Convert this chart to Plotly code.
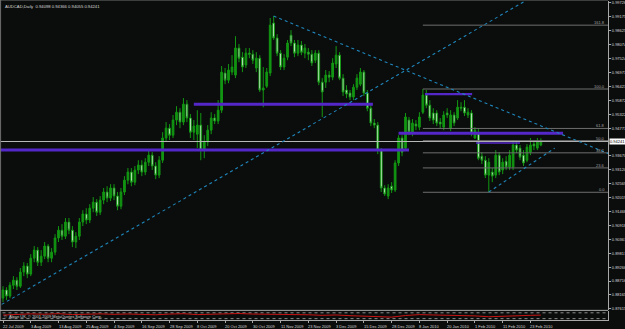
import plotly.graph_objects as go

# ---------------- data ----------------
opens = [0.8804, 0.8836, 0.8812, 0.8855, 0.8875, 0.8851, 0.8907, 0.8931, 0.8899, 0.8962,
         0.8994, 0.8946, 0.8970, 0.9010, 0.8962, 0.8986, 0.9042, 0.9073, 0.9049, 0.9105,
         0.9073, 0.9026, 0.9049, 0.9105, 0.9137, 0.9113, 0.9160, 0.9184, 0.9144, 0.9192,
         0.9224, 0.9200, 0.9240, 0.9208, 0.9168, 0.9224, 0.9271, 0.9303, 0.9263, 0.9311,
         0.9331, 0.9303, 0.9342, 0.9370, 0.9327, 0.9291, 0.9350, 0.9438, 0.9477, 0.9449,
         0.9509, 0.9540, 0.9501, 0.9572, 0.9517, 0.9461, 0.9453, 0.9489, 0.9390, 0.9422,
         0.9469, 0.9517, 0.9505, 0.9548, 0.9695, 0.9667, 0.9699, 0.9687, 0.9794, 0.9758,
         0.9727, 0.9774, 0.9770, 0.9715, 0.9754, 0.9628, 0.9643, 0.9695, 0.9893, 0.9834,
         0.9774, 0.9719, 0.9758, 0.9845, 0.9814, 0.9774, 0.9806, 0.9774, 0.9778, 0.9770,
         0.9746, 0.9774, 0.9659, 0.9659, 0.9687, 0.9679, 0.9731, 0.9766, 0.9675, 0.9628,
         0.9616, 0.9600, 0.9639, 0.9651, 0.9699, 0.9616, 0.9556, 0.9497, 0.9489, 0.9390,
         0.9240, 0.9208, 0.9247, 0.9232, 0.9339, 0.9438, 0.9398, 0.9509, 0.9461, 0.9493,
         0.9481, 0.9540, 0.9608, 0.9568, 0.9537, 0.9537, 0.9501, 0.9481, 0.9537, 0.9477,
         0.9529, 0.9517, 0.9560, 0.9560, 0.9529, 0.9537, 0.9438, 0.9461, 0.9366, 0.9350,
         0.9291, 0.9303, 0.9291, 0.9370, 0.9311, 0.9346, 0.9323, 0.9323, 0.9410, 0.9398,
         0.9370, 0.9350, 0.9382, 0.9414, 0.9398, 0.94098]
highs = [0.8851, 0.8847, 0.8867, 0.8891, 0.8887, 0.8923, 0.8946, 0.8943, 0.8978, 0.9010,
         0.9006, 0.8994, 0.9026, 0.9018, 0.9002, 0.9057, 0.9089, 0.9097, 0.9121, 0.9121,
         0.9089, 0.9065, 0.9121, 0.9152, 0.9160, 0.9176, 0.9204, 0.9196, 0.9208, 0.9240,
         0.9247, 0.9255, 0.9255, 0.9224, 0.9240, 0.9287, 0.9319, 0.9319, 0.9327, 0.9350,
         0.9350, 0.9358, 0.9390, 0.9382, 0.9342, 0.9366, 0.9461, 0.9501, 0.9493, 0.9529,
         0.9564, 0.9556, 0.9596, 0.9588, 0.9533, 0.9509, 0.9548, 0.9537, 0.9449, 0.9489,
         0.9540, 0.9533, 0.9588, 0.9723, 0.9715, 0.9731, 0.9766, 0.9841, 0.9810, 0.9778,
         0.9794, 0.9794, 0.9786, 0.9778, 0.9766, 0.9719, 0.9715, 0.9913, 0.9921, 0.9849,
         0.9786, 0.9770, 0.9826, 0.9865, 0.9826, 0.9826, 0.9822, 0.9810, 0.9794, 0.9786,
         0.9786, 0.9786, 0.9675, 0.9707, 0.9703, 0.9754, 0.9802, 0.9778, 0.9691, 0.9647,
         0.9628, 0.9651, 0.9691, 0.9715, 0.9707, 0.9628, 0.9568, 0.9513, 0.9501, 0.9398,
         0.9251, 0.9255, 0.9263, 0.9350, 0.9449, 0.9449, 0.9537, 0.9521, 0.9513, 0.9509,
         0.9540, 0.9632, 0.9628, 0.9588, 0.9556, 0.9548, 0.9517, 0.9544, 0.9556, 0.9548,
         0.9540, 0.9588, 0.9580, 0.9588, 0.9556, 0.9548, 0.9481, 0.9477, 0.9382, 0.9366,
         0.9358, 0.9319, 0.9390, 0.9382, 0.9358, 0.9366, 0.9390, 0.9430, 0.9422, 0.9410,
         0.9390, 0.9414, 0.9438, 0.9430, 0.9438, 0.94366]
lows = [0.8788, 0.8796, 0.8804, 0.8840, 0.8836, 0.8844, 0.8891, 0.8883, 0.8891, 0.8946,
        0.8931, 0.8931, 0.8958, 0.8946, 0.8946, 0.8974, 0.9026, 0.9034, 0.9038, 0.9057,
        0.9006, 0.9002, 0.9034, 0.9089, 0.9097, 0.9101, 0.9144, 0.9129, 0.9133, 0.9176,
        0.9184, 0.9188, 0.9192, 0.9152, 0.9156, 0.9212, 0.9255, 0.9247, 0.9251, 0.9295,
        0.9287, 0.9291, 0.9327, 0.9311, 0.9275, 0.9279, 0.9339, 0.9422, 0.9430, 0.9438,
        0.9489, 0.9477, 0.9489, 0.9501, 0.9438, 0.9430, 0.9398, 0.9350, 0.9358, 0.9406,
        0.9453, 0.9493, 0.9493, 0.9537, 0.9651, 0.9655, 0.9687, 0.9675, 0.9738, 0.9699,
        0.9715, 0.9754, 0.9731, 0.9699, 0.9620, 0.9560, 0.9636, 0.9683, 0.9826, 0.9762,
        0.9707, 0.9707, 0.9746, 0.9802, 0.9758, 0.9762, 0.9766, 0.9754, 0.9746, 0.9723,
        0.9735, 0.9647, 0.9521, 0.9636, 0.9659, 0.9667, 0.9715, 0.9667, 0.9604, 0.9596,
        0.9588, 0.9588, 0.9628, 0.9643, 0.9604, 0.9544, 0.9485, 0.9477, 0.9374, 0.9224,
        0.9208, 0.9196, 0.9220, 0.9224, 0.9327, 0.9366, 0.9390, 0.9449, 0.9445, 0.9469,
        0.9469, 0.9533, 0.9556, 0.9505, 0.9493, 0.9485, 0.9477, 0.9469, 0.9517, 0.9465,
        0.9485, 0.9509, 0.9544, 0.9525, 0.9517, 0.9445, 0.9434, 0.9350, 0.9335, 0.9279,
        0.9224, 0.9263, 0.9279, 0.9291, 0.9295, 0.9311, 0.9311, 0.9311, 0.9378, 0.9350,
        0.9327, 0.9342, 0.9370, 0.9390, 0.9390, 0.94055]
closes = [0.8836, 0.8812, 0.8855, 0.8875, 0.8851, 0.8907, 0.8931, 0.8899, 0.8962, 0.8994,
          0.8946, 0.8970, 0.9010, 0.8962, 0.8986, 0.9042, 0.9073, 0.9049, 0.9105, 0.9073,
          0.9026, 0.9049, 0.9105, 0.9137, 0.9113, 0.9160, 0.9184, 0.9144, 0.9192, 0.9224,
          0.9200, 0.9240, 0.9208, 0.9168, 0.9224, 0.9271, 0.9303, 0.9263, 0.9311, 0.9331,
          0.9303, 0.9342, 0.9370, 0.9327, 0.9291, 0.9350, 0.9438, 0.9477, 0.9449, 0.9509,
          0.9540, 0.9501, 0.9572, 0.9517, 0.9461, 0.9485, 0.9489, 0.9390, 0.9422, 0.9469,
          0.9517, 0.9505, 0.9548, 0.9699, 0.9667, 0.9707, 0.9719, 0.9794, 0.9754, 0.9719,
          0.9774, 0.9770, 0.9746, 0.9754, 0.9628, 0.9636, 0.9699, 0.9885, 0.9834, 0.9774,
          0.9719, 0.9754, 0.9814, 0.9814, 0.9774, 0.9806, 0.9778, 0.9794, 0.9770, 0.9735,
          0.9774, 0.9659, 0.9620, 0.9687, 0.9679, 0.9735, 0.9766, 0.9675, 0.9620, 0.9612,
          0.9600, 0.9639, 0.9675, 0.9699, 0.9616, 0.9556, 0.9497, 0.9489, 0.9390, 0.9240,
          0.9216, 0.9240, 0.9232, 0.9339, 0.9438, 0.9382, 0.9521, 0.9461, 0.9497, 0.9485,
          0.9521, 0.9608, 0.9568, 0.9517, 0.9509, 0.9497, 0.9493, 0.9529, 0.9529, 0.9529,
          0.9497, 0.9560, 0.9556, 0.9537, 0.9540, 0.9457, 0.9469, 0.9358, 0.9350, 0.9291,
          0.9342, 0.9287, 0.9370, 0.9303, 0.9342, 0.9323, 0.9370, 0.9410, 0.9390, 0.9362,
          0.9339, 0.9402, 0.9410, 0.9406, 0.9422, 0.94241]
bars = list(range(len(opens)))   # daily bars, 22 Jul 2009 .. 26 Feb 2010

date_labels = ["22 Jul 2009", "3 Aug 2009", "13 Aug 2009", "25 Aug 2009", "4 Sep 2009",
               "16 Sep 2009", "28 Sep 2009", "8 Oct 2009", "20 Oct 2009", "30 Oct 2009",
               "11 Nov 2009", "23 Nov 2009", "3 Dec 2009", "15 Dec 2009", "28 Dec 2009",
               "8 Jan 2010", "20 Jan 2010", "1 Feb 2010", "11 Feb 2010", "23 Feb 2010"]
date_bars = [0, 8, 16, 24, 32, 40, 48, 56, 64, 72, 80, 88, 96, 104, 112, 120, 128, 136, 144, 152]

price_ticks = [0.99726, 0.99175, 0.98625, 0.98074, 0.97524, 0.96973, 0.96423, 0.95872,
               0.95322, 0.94771, 0.93670, 0.93120, 0.92569, 0.92019, 0.91468, 0.90918,
               0.90367, 0.89817, 0.89266, 0.88716, 0.88165, 0.87615]

title_text = "AUDCAD,Daily  0.94098 0.94366 0.94055 0.94241"
bid_price = 0.94241

# indicator sub-window (red oscillator)
ind_bars = [0, 4, 8, 12, 16, 20, 24, 28, 32, 36, 40, 44, 48, 52, 56, 60, 64, 68, 72, 76,
            80, 84, 88, 92, 96, 100, 104, 108, 112, 116, 120, 124, 128, 132, 136, 140, 144,
            148, 152, 155]
ind_vals = [55, 62, 68, 64, 70, 60, 66, 68, 63, 67, 62, 58, 66, 70, 60, 64, 70, 72, 66, 64,
            68, 62, 58, 52, 56, 48, 45, 35, 32, 50, 60, 56, 54, 55, 46, 36, 44, 50, 52, 54]
ind_levels = [80, 15]
ind_text = "©  Alpari UK, © 2001-2009 MetaQuotes Software Corp."

# Fibonacci retracement object
fib_bar = 121
fib_high = 0.9632
fib_low = 0.9223
fib_levels = [0.0, 23.6, 38.2, 50.0, 61.8, 100.0, 161.8]

# trend lines: (bar, price) anchor pairs
trend_up = [(0, 0.8782), (80, 0.9419)]
trend_down = [(78, 0.9921), (166, 0.9424)]
trend_support = [(140, 0.9224), (159, 0.9398)]

# horizontal purple lines: (bar_from, bar_to, price)
purple_lines = [(-1, 117, 0.9390), (55, 106.6, 0.9572), (114, 161.4, 0.9457),
                (121.6, 135.2, 0.9612), (136.3, 149, 0.9418)]
purple_widths = [3, 3, 3, 2.2, 1.5]

# ---------------- figure ----------------
W, H = 625, 329
PLOT_W = 608            # right edge of chart window (price scale line)
PLOT_H = 320            # bottom of indicator window
BG = "#0b0d0c"
GREEN = "#129612"
AXIS = "#a8a8a8"
TXT = "#d8d8d8"
FONT = "Liberation Sans"
FS = 4

x_lo = -0.865
x_hi = x_lo + PLOT_W / 3.47
y_top_px, y_bot_px = 1, 310
def price_at_px(py):
    return bid_price + (141.5 - py) * 0.000396
main_range = [price_at_px(y_bot_px), price_at_px(y_top_px)]

fig = go.Figure()

fig.add_trace(go.Candlestick(
    x=bars, open=opens, high=highs, low=lows, close=closes,
    increasing=dict(fillcolor=GREEN, line=dict(color=GREEN, width=1)),
    decreasing=dict(fillcolor="#eefcee", line=dict(color=GREEN, width=1)),
    whiskerwidth=0, xaxis="x", yaxis="y", hoverinfo="skip", showlegend=False))

def ray(anchors, x_end):
    (x0, y0), (x1, y1) = anchors
    slope = (y1 - y0) / (x1 - x0)
    return [x0, x_end], [y0, y0 + slope * (x_end - x0)]

# bid line
fig.add_trace(go.Scatter(x=[x_lo - 1, x_hi + 1], y=[bid_price, bid_price], mode="lines",
                         line=dict(color="#b8b8b8", width=1), hoverinfo="skip", showlegend=False))

# fibonacci levels
for lv in fib_levels:
    p = fib_low + lv / 100.0 * (fib_high - fib_low)
    fig.add_trace(go.Scatter(x=[fib_bar, x_hi + 1], y=[p, p], mode="lines",
                             line=dict(color="#6e6e6e", width=1), hoverinfo="skip", showlegend=False))
    fig.add_annotation(x=1, xref="paper", y=p, yref="y", text=f"{lv:.1f}", showarrow=False,
                       xanchor="right", yanchor="bottom", xshift=-1, yshift=-2,
                       font=dict(family=FONT, size=FS, color="#a0a0a0"))

# purple horizontal lines
for (b0, b1, p), w in zip(purple_lines, purple_widths):
    fig.add_trace(go.Scatter(x=[b0, b1], y=[p, p], mode="lines",
                             line=dict(color="#5427c8", width=w), hoverinfo="skip", showlegend=False))

# trend lines
tx, ty = ray(trend_up, x_hi + 2)
tx[0] = x_lo - 1
ty[0] = trend_up[0][1] + (trend_up[1][1] - trend_up[0][1]) / (trend_up[1][0] - trend_up[0][0]) * (x_lo - 1)
fig.add_trace(go.Scatter(x=tx, y=ty, mode="lines", line=dict(color="#1f86bb", width=1.1, dash="dot"),
                         hoverinfo="skip", showlegend=False))
tx, ty = ray(trend_down, x_hi + 2)
fig.add_trace(go.Scatter(x=tx, y=ty, mode="lines", line=dict(color="#1f86bb", width=1.1, dash="dot"),
                         hoverinfo="skip", showlegend=False))
fig.add_trace(go.Scatter(x=[p[0] for p in trend_support], y=[p[1] for p in trend_support], mode="lines",
                         line=dict(color="#1f86bb", width=1.1, dash="dot"), hoverinfo="skip", showlegend=False))

# indicator window
for lv in ind_levels:
    fig.add_trace(go.Scatter(x=[x_lo - 1, x_hi + 1], y=[lv, lv], mode="lines", xaxis="x", yaxis="y2",
                             line=dict(color="#8c8c8c", width=1, dash="dot"), hoverinfo="skip", showlegend=False))
fig.add_trace(go.Scatter(x=ind_bars, y=ind_vals, mode="lines", xaxis="x", yaxis="y2",
                         line=dict(color="#c81414", width=1), hoverinfo="skip", showlegend=False))

dom_main = [(PLOT_H - y_bot_px) / PLOT_H, (PLOT_H - y_top_px) / PLOT_H]
dom_ind = [0, (PLOT_H - 311) / PLOT_H]

fig.update_layout(
    width=W, height=H,
    margin=dict(l=0, r=W - PLOT_W, t=0, b=H - PLOT_H, autoexpand=False),
    paper_bgcolor=BG, plot_bgcolor=BG,
    showlegend=False,
    font=dict(family=FONT, size=FS, color=TXT),
    xaxis=dict(range=[x_lo, x_hi], anchor="y2", showgrid=False, zeroline=False, automargin=False,
               rangeslider=dict(visible=False), tickvals=date_bars, showticklabels=False,
               ticks="outside", ticklen=2, tickcolor=AXIS, showline=True, linecolor=AXIS, linewidth=1),
    yaxis=dict(domain=dom_main, range=main_range, side="right", showgrid=False, zeroline=False,
               automargin=False, tickvals=price_ticks, ticktext=[f"{v:.5f}" for v in price_ticks],
               ticks="outside", ticklen=2, tickcolor=AXIS, showline=True, linecolor=AXIS,
               tickfont=dict(family=FONT, size=FS, color=TXT)),
    yaxis2=dict(domain=dom_ind, range=[0, 100], side="right", showgrid=False, zeroline=False,
                automargin=False, showticklabels=False, showline=True, linecolor=AXIS),
)

# date labels (left aligned at the bar, like MT4)
for b, t in zip(date_bars, date_labels):
    fig.add_annotation(x=b, xref="x", y=0, yref="paper", text=t, showarrow=False,
                       xanchor="left", yanchor="top", xshift=-2, yshift=-2,
                       font=dict(family=FONT, size=FS, color=TXT))

# title and indicator caption
fig.add_annotation(x=0, xref="paper", y=1, yref="paper", text=title_text, showarrow=False,
                   xanchor="left", yanchor="top", xshift=3, yshift=-2,
                   font=dict(family=FONT, size=FS + 0.2, color=TXT))
fig.add_annotation(x=0, xref="paper", y=dom_ind[1], yref="paper", text=ind_text, showarrow=False,
                   xanchor="left", yanchor="top", xshift=2, yshift=-1,
                   font=dict(family=FONT, size=FS, color=TXT))

# current price box
fig.add_annotation(x=1, xref="paper", y=bid_price, yref="y", text=str(bid_price), showarrow=False,
                   xanchor="left", yanchor="middle", xshift=1, bgcolor="#ffffff", borderpad=0,
                   font=dict(family=FONT, size=FS, color="#000000"))

# window frame lines
fig.add_shape(type="line", xref="paper", yref="paper", x0=0, x1=1, y0=1, y1=1,
              line=dict(color="#707070", width=1))
fig.add_shape(type="line", xref="paper", yref="paper", x0=0.001, x1=0.001, y0=0, y1=1,
              line=dict(color="#707070", width=1))
fig.add_shape(type="line", xref="paper", yref="paper", x0=0, x1=1, y0=dom_ind[1] + 0.002,
              y1=dom_ind[1] + 0.002, line=dict(color=AXIS, width=1))

fig.write_html("out.html")
